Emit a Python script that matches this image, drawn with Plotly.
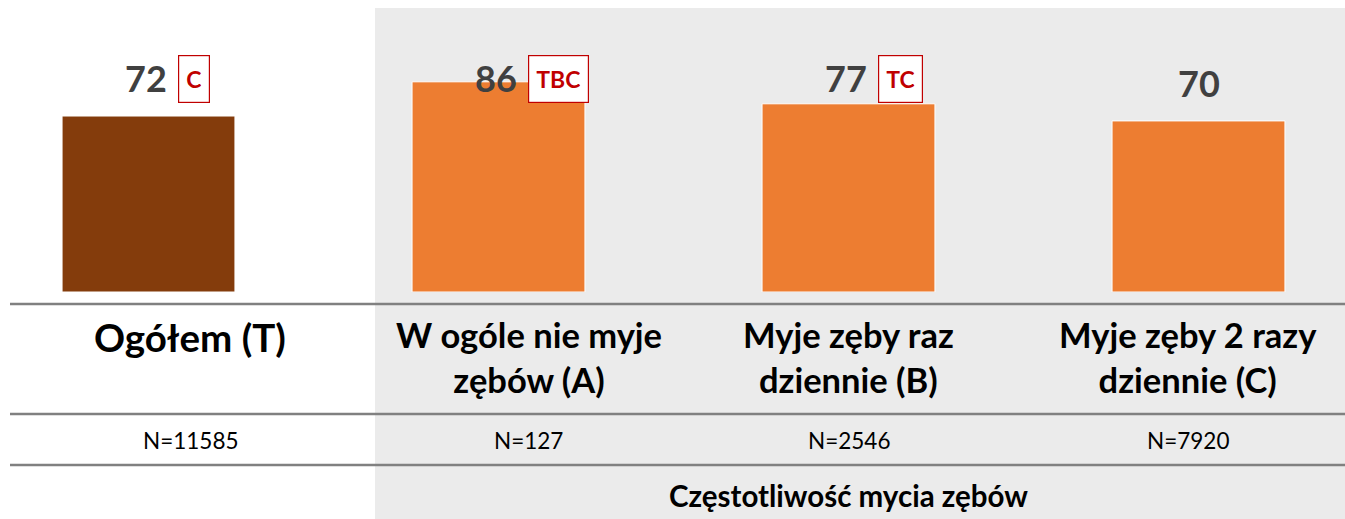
import plotly.graph_objects as go

categories = ["Ogółem (T)", "W ogóle nie myje<br>zębów (A)", "Myje zęby raz<br>dziennie (B)", "Myje zęby 2 razy<br>dziennie (C)"]
values = [72, 86, 77, 70]
sig_letters = ["C", "TBC", "TC", ""]
sample_sizes = ["N=11585", "N=127", "N=2546", "N=7920"]
group_title = "Częstotliwość mycia zębów"
bar_colors = ["#843C0C", "#ED7D31", "#ED7D31", "#ED7D31"]

# layout (pixel) helpers
W, H = 1345, 519
FONT = "Lato"
label_shift = [41.5, 30, 0, -10.5]   # horizontal offset of text column vs bar centre (px)

def px2paper_y(ref_y):
    return (H - ref_y) / H

def px2paper_x(ref_x):
    return ref_x / W

xs = list(range(len(categories)))
fig = go.Figure()
fig.add_trace(go.Bar(
    x=xs, y=values, width=0.494,
    marker=dict(color=bar_colors, line=dict(color="white", width=1)),
    hoverinfo="skip", showlegend=False,
))

shapes = [
    dict(type="rect", xref="paper", yref="paper", x0=px2paper_x(375), x1=1, y0=0, y1=px2paper_y(8),
         fillcolor="#EBEBEB", line=dict(width=0), layer="below"),
]
for ypx in [304, 414, 465]:
    shapes.append(dict(type="line", xref="paper", yref="paper", x0=px2paper_x(10), x1=1,
                       y0=px2paper_y(ypx), y1=px2paper_y(ypx),
                       line=dict(color="#808080", width=2.5)))

ann = []
for i, (v, s) in enumerate(zip(values, sig_letters)):
    if s:
        ann.append(dict(x=i, y=px2paper_y(78), xref="x", yref="paper", text=f"<b>{v}</b>",
                        showarrow=False, xanchor="right", yanchor="middle", xshift=20,
                        font=dict(family=FONT, size=36, color="#404040")))
        ann.append(dict(x=i, y=px2paper_y(78.5), xref="x", yref="paper", text=f"<b>{s}</b>",
                        showarrow=False, xanchor="left", yanchor="middle", xshift=29,
                        height=32, valign="middle",
                        font=dict(family=FONT, size=23, color="#C00000"),
                        bgcolor="white", bordercolor="#C00000", borderwidth=1.2, borderpad=7))
    else:
        ann.append(dict(x=i, y=px2paper_y(83), xref="x", yref="paper", text=f"<b>{v}</b>",
                        showarrow=False, xanchor="center", yanchor="middle",
                        font=dict(family=FONT, size=36, color="#404040")))

for i, c in enumerate(categories):
    if "<br>" in c:
        ann.append(dict(x=i, y=px2paper_y(357), xref="x", yref="paper", text=f"<b>{c}</b>",
                        showarrow=False, xanchor="center", yanchor="middle", xshift=label_shift[i],
                        font=dict(family=FONT, size=34.5, color="#000000")))
    else:
        ann.append(dict(x=i, y=px2paper_y(337), xref="x", yref="paper", text=f"<b>{c}</b>",
                        showarrow=False, xanchor="center", yanchor="middle", xshift=label_shift[i],
                        font=dict(family=FONT, size=38.5, color="#000000")))

for i, n in enumerate(sample_sizes):
    ann.append(dict(x=i, y=px2paper_y(440), xref="x", yref="paper", text=n,
                    showarrow=False, xanchor="center", yanchor="middle", xshift=label_shift[i],
                    font=dict(family=FONT, size=22.5, color="#000000")))

ann.append(dict(x=2, y=px2paper_y(495), xref="x", yref="paper", text=f"<b>{group_title}</b>",
                showarrow=False, xanchor="center", yanchor="middle",
                font=dict(family=FONT, size=29.5, color="#000000")))

x0 = -148.5 / 350
fig.update_layout(
    width=W, height=H,
    margin=dict(l=0, r=0, t=0, b=0),
    paper_bgcolor="white", plot_bgcolor="rgba(0,0,0,0)",
    xaxis=dict(range=[x0, x0 + W / 350], visible=False, fixedrange=True),
    yaxis=dict(range=[0, 292 / 2.444], domain=[px2paper_y(292), 1],
               visible=False, fixedrange=True),
    shapes=shapes, annotations=ann, bargap=0,
)
fig.write_html(
    "out.html",
    config={"displayModeBar": False, "staticPlot": True},
    post_script="document.body.style.margin='0px';document.body.style.overflow='hidden';",
)
